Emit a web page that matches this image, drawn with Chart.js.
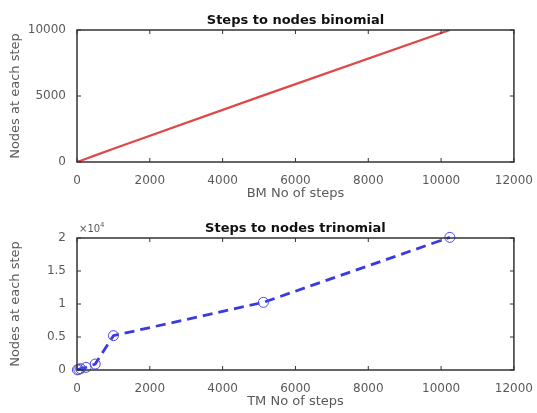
<!DOCTYPE html>
<html>
<head>
<meta charset="utf-8">
<script src="https://cdn.jsdelivr.net/npm/chart.js@4"></script>
<style>
  body { margin:0; background:#fff; width:537px; height:413px; position:relative; overflow:hidden; }
  canvas { position:absolute; left:0; }
  #c1 { top:0; }
  #c2 { top:205px; }
</style>
</head>
<body>
<canvas id="c1" width="537" height="205"></canvas>
<canvas id="c2" width="537" height="208"></canvas>
<script>
// BM: steps vs nodes (red solid)
const bmSteps = [10, 50, 100, 250, 500, 1000, 5120, 10240];
const bmNodes = [11, 51, 101, 251, 501, 1001, 5050, 10000];
// TM: steps vs nodes (blue dashed, circles)
const tmSteps = [10, 50, 100, 250, 500, 1000, 5120, 10240];
const tmNodes = [21, 101, 201, 400, 900, 5200, 10250, 20100];

const xTicks = [0, 2000, 4000, 6000, 8000, 10000, 12000];
const bmYTicks = [0, 5000, 10000];
const tmYTicks = [0, 5000, 10000, 15000, 20000];

const tickColor = '#5a5a5a';
const tickFont = { family: 'DejaVu Sans', size: 12 };

// box + inward ticks on all sides, plus title text
const boxPlugin = {
  id: 'box',
  afterDraw(chart, args, opts) {
    const { ctx, chartArea: a, scales } = chart;
    ctx.save();
    ctx.strokeStyle = '#333';
    ctx.lineWidth = 1.5;
    ctx.strokeRect(a.left, a.top, a.right - a.left, a.bottom - a.top);
    ctx.lineWidth = 1;
    scales.x.ticks.forEach(t => {
      const px = scales.x.getPixelForValue(t.value);
      ctx.beginPath();
      ctx.moveTo(px, a.bottom); ctx.lineTo(px, a.bottom - 4);
      ctx.moveTo(px, a.top); ctx.lineTo(px, a.top + 4);
      ctx.stroke();
    });
    scales.y.ticks.forEach(t => {
      const py = scales.y.getPixelForValue(t.value);
      ctx.beginPath();
      ctx.moveTo(a.left, py); ctx.lineTo(a.left + 4, py);
      ctx.moveTo(a.right, py); ctx.lineTo(a.right - 4, py);
      ctx.stroke();
    });
    ctx.fillStyle = '#111';
    ctx.font = 'bold 13px "DejaVu Sans"';
    ctx.textAlign = 'center';
    ctx.textBaseline = 'alphabetic';
    ctx.fillText(opts.title, (a.left + a.right) / 2, a.top - 6);
    if (opts.exp) {
      ctx.fillStyle = tickColor;
      ctx.textAlign = 'left';
      ctx.font = '10px "DejaVu Sans"';
      ctx.fillText('×10', a.left + 2, a.top - 6);
      ctx.font = '7px "DejaVu Sans"';
      ctx.fillText('4', a.left + 23, a.top - 11);
    }
    ctx.restore();
  }
};

function makeChart(id, steps, nodes, ds, yTicks, yMax, xLabel, title, exp, xH, topPad) {
  return new Chart(document.getElementById(id), {
    type: 'scatter',
    data: {
      datasets: [Object.assign({
        data: steps.map((s, i) => ({ x: s, y: nodes[i] })),
        showLine: true
      }, ds)]
    },
    options: {
      responsive: false,
      animation: false,
      layout: { padding: { top: topPad, right: 22, left: 4, bottom: 0 } },
      plugins: {
        legend: { display: false },
        tooltip: { enabled: false },
        box: { title: title, exp: exp }
      },
      scales: {
        x: {
          type: 'linear', min: 0, max: 12000,
          afterBuildTicks: s => { s.ticks = xTicks.map(v => ({ value: v })); },
          afterFit: s => { s.height = xH; },
          grid: { display: false },
          border: { display: false },
          ticks: { color: tickColor, font: tickFont, padding: 4, maxRotation: 0, callback: v => String(v) },
          title: { display: true, text: xLabel, color: tickColor, font: { family: 'DejaVu Sans', size: 13 }, padding: { top: 0 } }
        },
        y: {
          type: 'linear', min: 0, max: yMax,
          afterBuildTicks: s => { s.ticks = yTicks.map(v => ({ value: v })); },
          afterFit: s => { s.width = 73; },
          grid: { display: false },
          border: { display: false },
          ticks: {
            color: tickColor, font: tickFont, padding: 3,
            callback: v => exp ? String(v / 10000) : String(v)
          },
          title: { display: true, text: 'Nodes at each step', color: tickColor, font: { family: 'DejaVu Sans', size: 13 }, padding: { bottom: 2 } }
        }
      }
    },
    plugins: [boxPlugin]
  });
}

makeChart('c1', bmSteps, bmNodes,
  { borderColor: '#e04848', borderWidth: 2.2, pointRadius: 0 },
  bmYTicks, 10000, 'BM No of steps', 'Steps to nodes binomial', false, 43, 30);

makeChart('c2', tmSteps, tmNodes,
  { borderColor: '#3a3ae0', borderWidth: 2.8, borderDash: [10, 6], pointRadius: 5,
    pointBackgroundColor: 'rgba(0,0,0,0)', pointBorderColor: '#4a4ae0', pointBorderWidth: 1, clip: false },
  tmYTicks, 20000, 'TM No of steps', 'Steps to nodes trinomial', true, 43, 33);
</script>
</body>
</html>
